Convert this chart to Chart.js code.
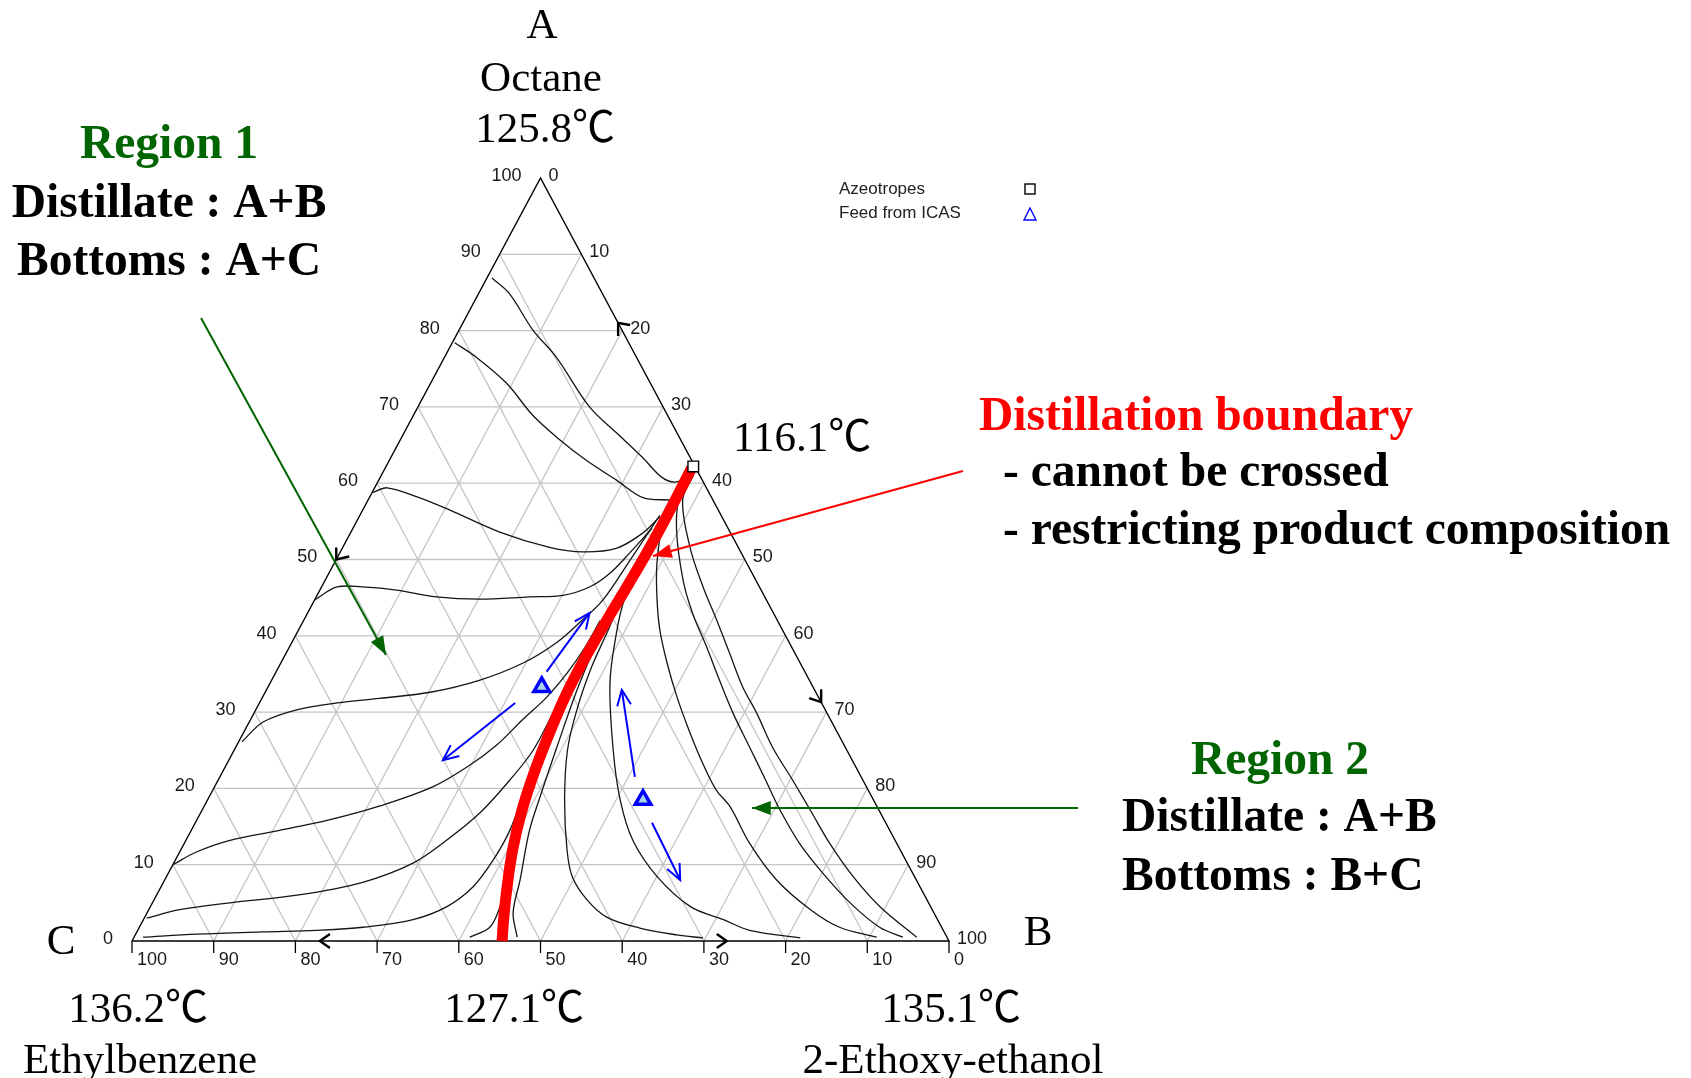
<!DOCTYPE html>
<html>
<head>
<meta charset="utf-8">
<script src="https://cdn.jsdelivr.net/npm/chart.js@4.4.0/dist/chart.umd.min.js"></script>
<style>
    html, body { margin: 0; padding: 0; background: #fff; }
</style>
</head>
<body>
<canvas id="ternary" width="1691" height="1078"></canvas>
<script>
// every composition is [A = Octane %, B = 2-Ethoxy-ethanol %], C = Ethylbenzene = rest
let tickValues = [0, 10, 20, 30, 40, 50, 60, 70, 80, 90, 100];
let gridLevels = [10, 20, 30, 40, 50, 60, 70, 80, 90];

let azeotropes = [[62.2, 37.6]];
let feeds = [[33.3, 33.5], [18.5, 53.3]];

let boundary = [[62, 37.5], [57, 37.6], [52, 37.6], [47, 37.4], [42, 37.1], [37, 36.9], [32, 37.0], [27, 37.5], [22, 38.2], [17, 39.2], [12, 40.6], [7, 42.4], [3, 44.0], [0, 45.3]];

// region 1 residue curves
let curveR1a = [[86.9, 0.6], [84.9, 3.7], [80.1, 9.0], [76.5, 13.7], [70.0, 21.0], [66.6, 26.0], [63.3, 30.9], [60.7, 34.6], [60.2, 36.7], [61.5, 37.4]];
let curveR1b = [[78.4, 0.3], [76.5, 3.9], [73.1, 9.3], [68.9, 14.6], [65.7, 19.5], [63.0, 24.1], [60.4, 29.1], [58.1, 33.5], [57.8, 36.9]];
let curveR1c = [[58.8, 0.1], [59.4, 1.5], [58.2, 5.8], [56.5, 10.6], [53.6, 18.2], [51.6, 25.3], [51.0, 29.7], [51.5, 33.6], [53.5, 35.8], [55.6, 36.8]];
let curveR1d = [[44.7, 0], [46.4, 1.9], [46.4, 5.0], [46.0, 9.4], [45.1, 14.7], [44.8, 20.2], [45.1, 26.1], [45.3, 30.1], [46.4, 32.8], [48.2, 34.4], [50.9, 35.5], [54.1, 36.6]];
let curveR1e = [[26.1, 0.4], [28.7, 1.7], [30.3, 5.0], [31.2, 9.5], [31.8, 14.4], [32.6, 20.2], [34.2, 25.5], [36.4, 29.6], [39.1, 32.4], [42.1, 34.1], [44.7, 35.3], [49.9, 36.0], [55.8, 36.7]];
let curveR1f = [[10.0, 0], [11.7, 2.1], [13.2, 5.4], [14.5, 10.8], [15.9, 16.3], [17.7, 21.5], [20.2, 26.7], [22.8, 29.6], [25.7, 31.8], [29.0, 33.3], [32.0, 34.8], [35.1, 35.7], [38.5, 36.2], [42, 36.3]];
let curveR1g = [[3.0, 0.3], [4.1, 3.8], [5.0, 9.5], [6.0, 17.2], [7.7, 24.4], [10.2, 29.3], [13.2, 31.9], [16.8, 34.2], [21.1, 35.7], [25, 36.6], [30, 36.6]];
let curveR1h = [[0.5, 1.1], [0.9, 7.5], [1.2, 15.4], [1.4, 21.9], [1.8, 27.4], [2.8, 33.0], [4.5, 36.3], [7.1, 38.2], [10.6, 38.9], [14.5, 39.0], [19, 38.3]];
let curveR1i = [[0.5, 41.1], [1.8, 42.9], [4.5, 42.8], [8.0, 41.9], [11, 40.8]];

// region 2 residue curves
let curveR2a = [[0.5, 46.9], [3.7, 44.8], [8.0, 43.5], [14.5, 41.4], [18.9, 40.5], [25.4, 39.3], [33.8, 37.9], [40.4, 37.3], [50, 37.4], [58, 37.6]];
let curveR2b = [[50, 37.6], [44.7, 37.9], [40.4, 39.1], [33.8, 41.6], [25.0, 46.4], [18.5, 50.5], [13.2, 54.7], [8.4, 60.1], [4.5, 66.1], [2.8, 71.0], [1.4, 74.9], [0.4, 81.6]];
let curveR2c = [[45, 37.4], [40.8, 37.9], [35.9, 38.3], [30.3, 39.3], [25.0, 40.8], [18.5, 43.7], [11.9, 47.3], [8.4, 49.7], [5.4, 53.0], [3.1, 56.6], [1.7, 61.3], [0.8, 66.3], [0.4, 69.7]];
let curveR2d = [[61, 37.8], [58.7, 37.2], [54.8, 37.6], [49.5, 39.5], [45.1, 41.7], [40.8, 44.2], [36.4, 47.3], [32.0, 50.7], [27.7, 54.3], [23.3, 58.2], [19.8, 61.6], [17.6, 64.4], [12.8, 69.2], [8.0, 74.9], [4.1, 81.0], [1.8, 85.7], [0.5, 90.9]];
let curveR2e = [[61, 38], [58.2, 37.9], [53.9, 39.7], [47.3, 43.8], [43.0, 47.1], [38.5, 51.1], [34.2, 54.8], [29.9, 58.6], [25.4, 62.9], [21.1, 67.0], [17.2, 70.7], [12.8, 75.3], [8.9, 80.1], [5.0, 85.4], [1.8, 90.6], [0.5, 94.1]];
let curveR2f = [[61, 38.2], [57.8, 38.5], [51.6, 42.5], [46.4, 46.7], [42.1, 50.5], [37.7, 54.3], [33.3, 58.1], [29.9, 61.5], [25.4, 65.7], [21.1, 70.3], [17.2, 74.4], [12.8, 79.0], [8.4, 84.1], [4.5, 89.3], [0.5, 95.8]];

let curves = [curveR1a, curveR1b, curveR1c, curveR1d, curveR1e, curveR1f, curveR1g, curveR1h, curveR1i,
    curveR2a, curveR2b, curveR2c, curveR2d, curveR2e, curveR2f];

// blue direction arrows (composition from -> to)
let arrowFrom = [[35.3, 33.1], [31.2, 31.3], [21.5, 50.8], [15.5, 55.9]];
let arrowTo = [[43.0, 34.5], [23.7, 26.2], [32.9, 43.5], [8.0, 63.1]];

// small arrows on the edges, [A, B] of the tip
let edgeArrowAt = [[50, 0], [81, 19], [31.3, 68.7], [0, 23], [0, 72.8]];

// call-out arrows, in plot units (x, y) with the base C-B from 0 to 1
let calloutFrom = [[0.0845, 0.8165], [1.1579, 0.1743], [1.0171, 0.6160]];
let calloutTo = [[0.3109, 0.3748], [0.7589, 0.1743], [0.6377, 0.5046]];
let calloutColor = ['#006400', '#006400', '#ff0000'];

function tern(a, b) {
    return { x: (b + a / 2) / 100, y: a / 100 };
}

let serif = '"Liberation Serif", "Times New Roman", "Noto Sans CJK JP", serif';
let sans = '"Liberation Sans", Arial, sans-serif';

let datasets = [];

gridLevels.forEach(k => {
    [[[k, 0], [k, 100 - k]], [[0, k], [100 - k, k]], [[0, 100 - k], [100 - k, 0]]].forEach(seg => {
        datasets.push({
            data: seg.map(p => tern(p[0], p[1])),
            showLine: true, pointRadius: 0, borderColor: '#c4c4c4', borderWidth: 1.3, order: 20
        });
    });
});

datasets.push({
    data: [[0, 0], [100, 0], [0, 100], [0, 0]].map(p => tern(p[0], p[1])),
    showLine: true, pointRadius: 0, borderColor: '#000', borderWidth: 1.4, order: 15
});

curves.forEach(c => {
    datasets.push({
        data: c.map(p => tern(p[0], p[1])),
        showLine: true, pointRadius: 0, borderColor: '#151515', borderWidth: 1.3, tension: 0.35, order: 10
    });
});

datasets.push({
    data: boundary.map(p => tern(p[0], p[1])),
    showLine: true, pointRadius: 0, borderColor: '#ff0000', borderWidth: 11, tension: 0.4, order: 3
});

datasets.push({
    data: azeotropes.map(p => tern(p[0], p[1])),
    showLine: false, pointStyle: 'rect', pointRadius: 7.5, pointBorderWidth: 1.4,
    pointBorderColor: '#000', pointBackgroundColor: '#fff', order: 2
});

datasets.push({
    data: feeds.map(p => tern(p[0], p[1])),
    showLine: false, pointStyle: 'triangle', pointRadius: 9, pointBorderWidth: 3.5,
    pointBorderColor: '#0000ff', pointBackgroundColor: '#a8d4e8', order: 1
});

function arrowHead(c, x1, y1, x2, y2, len, half, filled) {
    let ang = Math.atan2(y2 - y1, x2 - x1);
    let ax = x2 - len * Math.cos(ang - half), ay = y2 - len * Math.sin(ang - half);
    let bx = x2 - len * Math.cos(ang + half), by = y2 - len * Math.sin(ang + half);
    c.beginPath();
    c.moveTo(ax, ay);
    c.lineTo(x2, y2);
    c.lineTo(bx, by);
    if (filled) { c.closePath(); c.fill(); } else { c.stroke(); }
}

let overlay = {
    id: 'overlay',
    afterDraw(chart) {
        let c = chart.ctx, xs = chart.scales.x, ys = chart.scales.y;
        let pt = (a, b) => { let p = tern(a, b); return [xs.getPixelForValue(p.x), ys.getPixelForValue(p.y)]; };
        let uv = (u, v) => [xs.getPixelForValue(u), ys.getPixelForValue(v)];
        c.save();

        // edge tick labels
        c.fillStyle = '#1a1a1a';
        c.font = '18px ' + sans;
        c.textBaseline = 'middle';
        tickValues.forEach(v => {
            let [lx, ly] = pt(v, 0);
            c.textAlign = 'right';
            c.fillText(String(v), lx - 19, ly - 2);
            let [rx, ry] = pt(100 - v, v);
            c.textAlign = 'left';
            c.fillText(String(v), rx + 8, ry - 2);
            let [bx, by] = pt(0, 100 - v);
            c.fillText(String(v), bx + 5, by + 19);
            c.strokeStyle = '#000';
            c.lineWidth = 1.3;
            c.beginPath();
            c.moveTo(bx, by);
            c.lineTo(bx, by + 12);
            c.stroke();
        });

        // small arrows on the edges
        let strokes = [[[0, -12], [13, -3]], [[0, 13], [12, 2]], [[0, -13], [-12, -4]], [[10, -7], [10, 7]], [[-10, -7], [-10, 7]]];
        c.strokeStyle = '#000';
        c.lineWidth = 2.4;
        edgeArrowAt.forEach((p, i) => {
            let [tx, ty] = pt(p[0], p[1]);
            c.beginPath();
            c.moveTo(tx + strokes[i][0][0], ty + strokes[i][0][1]);
            c.lineTo(tx, ty);
            c.lineTo(tx + strokes[i][1][0], ty + strokes[i][1][1]);
            c.stroke();
        });

        // blue arrows
        c.strokeStyle = '#0000ff';
        c.lineWidth = 2;
        arrowFrom.forEach((f, i) => {
            let [x1, y1] = pt(f[0], f[1]);
            let [x2, y2] = pt(arrowTo[i][0], arrowTo[i][1]);
            c.beginPath();
            c.moveTo(x1, y1);
            c.lineTo(x2, y2);
            c.stroke();
            arrowHead(c, x1, y1, x2, y2, 17, 0.42, false);
        });

        // call-out arrows
        calloutFrom.forEach((f, i) => {
            let [x1, y1] = uv(f[0], f[1]);
            let [x2, y2] = uv(calloutTo[i][0], calloutTo[i][1]);
            c.strokeStyle = calloutColor[i];
            c.fillStyle = calloutColor[i];
            c.lineWidth = 2;
            c.beginPath();
            c.moveTo(x1, y1);
            c.lineTo(x2, y2);
            c.stroke();
            arrowHead(c, x1, y1, x2, y2, 20, 0.36, true);
        });

        // legend
        c.fillStyle = '#222';
        c.font = '17px ' + sans;
        c.textAlign = 'left';
        c.fillText('Azeotropes', 839, 189);
        c.fillText('Feed from ICAS', 839, 213);
        c.strokeStyle = '#000';
        c.lineWidth = 1.4;
        c.strokeRect(1025, 184, 10, 10);
        c.strokeStyle = '#0000ff';
        c.beginPath();
        c.moveTo(1030, 208);
        c.lineTo(1036, 220);
        c.lineTo(1024, 220);
        c.closePath();
        c.stroke();

        // labels
        let texts = [
            ['A', 542, 27, 'center', false, '#000'],
            ['Octane', 541, 80, 'center', false, '#000'],
            ['125.8\u2103', 545, 131, 'center', false, '#000'],
            ['Region 1', 169, 146, 'center', true, '#006400'],
            ['Distillate : A+B', 169, 205, 'center', true, '#000'],
            ['Bottoms : A+C', 169, 263, 'center', true, '#000'],
            ['116.1\u2103', 733, 440, 'left', false, '#000'],
            ['Distillation boundary', 979, 418, 'left', true, '#ff0000'],
            ['- cannot be crossed', 1003, 474, 'left', true, '#000'],
            ['- restricting product composition', 1003, 532, 'left', true, '#000'],
            ['Region 2', 1280, 762, 'center', true, '#006400'],
            ['Distillate : A+B', 1122, 819, 'left', true, '#000'],
            ['Bottoms : B+C', 1122, 878, 'left', true, '#000'],
            ['C', 61, 943, 'center', false, '#000'],
            ['B', 1038, 934, 'center', false, '#000'],
            ['136.2\u2103', 138, 1011, 'center', false, '#000'],
            ['Ethylbenzene', 140, 1062, 'center', false, '#000'],
            ['127.1\u2103', 514, 1011, 'center', false, '#000'],
            ['135.1\u2103', 951, 1011, 'center', false, '#000'],
            ['2-Ethoxy-ethanol', 953, 1062, 'center', false, '#000']
        ];
        c.textBaseline = 'middle';
        texts.forEach(t => {
            c.font = (t[4] ? 'bold 47.5px ' : '43px ') + serif;
            c.fillStyle = t[5];
            c.textAlign = t[3];
            c.fillText(t[0], t[1], t[2]);
        });
        c.restore();
    }
};

let chart = new Chart(document.getElementById('ternary').getContext('2d'), {
    type: 'scatter',
    data: { datasets: datasets },
    options: {
        responsive: false,
        animation: false,
        events: [],
        layout: { padding: 0, autoPadding: false },
        plugins: { legend: { display: false }, tooltip: { enabled: false } },
        scales: {
            x: { type: 'linear', display: false, min: -0.16157, max: 1.90820 },
            y: { type: 'linear', display: false, min: -0.17955, max: 1.23329 }
        }
    },
    plugins: [overlay]
});
</script>
</body>
</html>
